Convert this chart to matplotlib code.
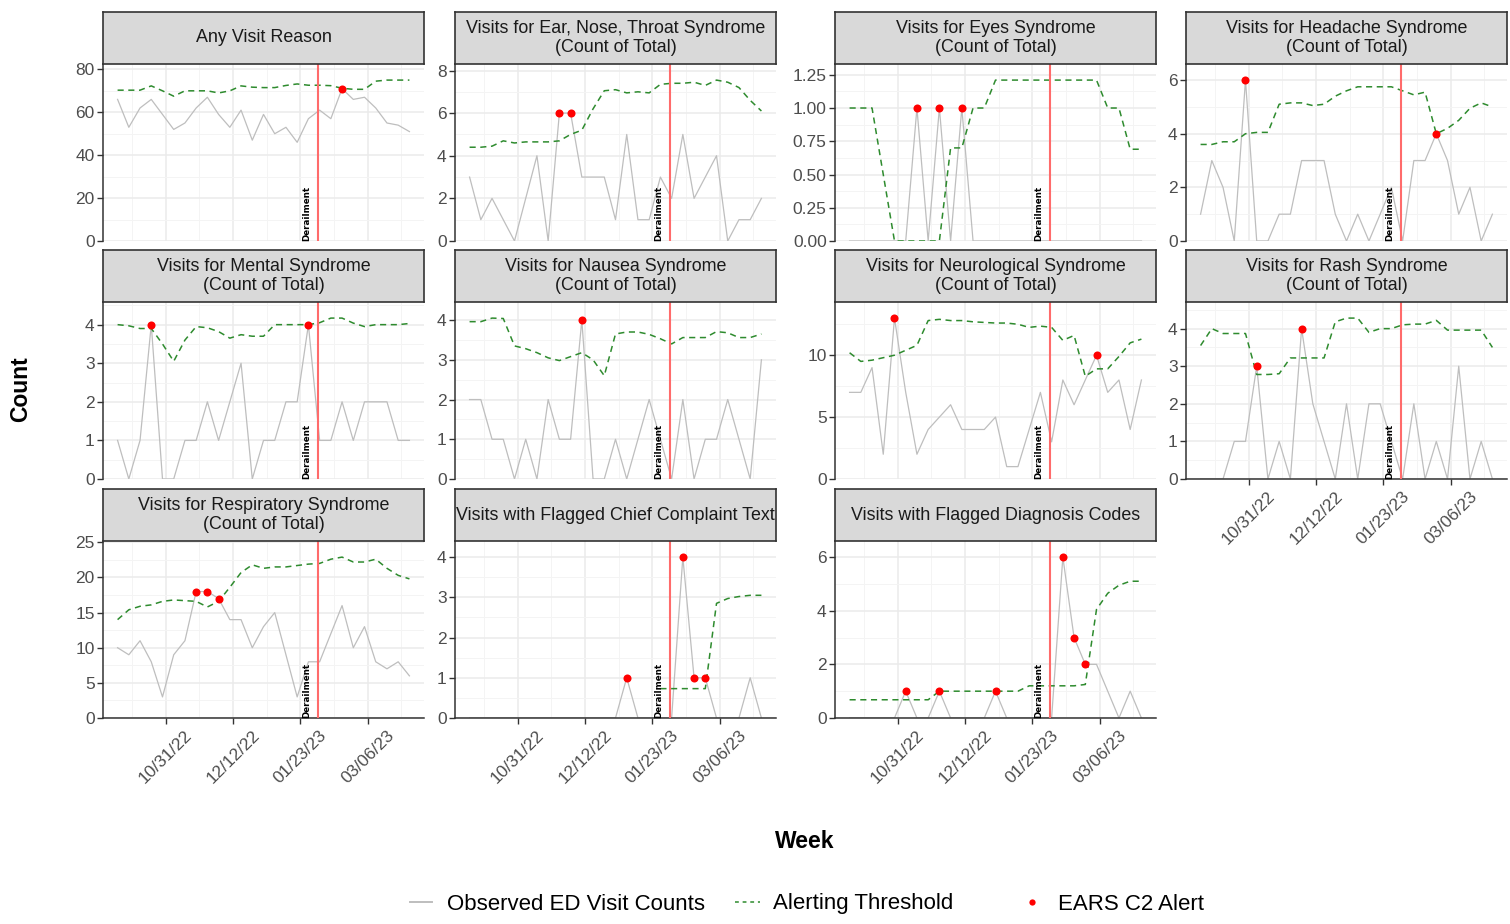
import matplotlib
matplotlib.use("Agg")
import matplotlib.dates as mdates
import matplotlib.pyplot as plt
import numpy as np
import pandas as pd
from matplotlib.lines import Line2D
from matplotlib.ticker import FixedLocator, FuncFormatter

plt.rcParams["font.family"] = ["Liberation Sans", "DejaVu Sans"]

# weekly series, Oct 1 2022 .. Apr 1 2023
weeks = pd.date_range("2022-10-01", periods=27, freq="7D")
derailment = pd.Timestamp("2023-02-03")
date_breaks = pd.to_datetime(["2022-10-31", "2022-12-12", "2023-01-23", "2023-03-06"])
date_minor = pd.to_datetime(["2022-10-10", "2022-11-21", "2023-01-02", "2023-02-13", "2023-03-27"])
nan = np.nan

titles = [
    "Any Visit Reason",
    "Visits for Ear, Nose, Throat Syndrome\n(Count of Total)",
    "Visits for Eyes Syndrome\n(Count of Total)",
    "Visits for Headache Syndrome\n(Count of Total)",
    "Visits for Mental Syndrome\n(Count of Total)",
    "Visits for Nausea Syndrome\n(Count of Total)",
    "Visits for Neurological Syndrome\n(Count of Total)",
    "Visits for Rash Syndrome\n(Count of Total)",
    "Visits for Respiratory Syndrome\n(Count of Total)",
    "Visits with Flagged Chief Complaint Text",
    "Visits with Flagged Diagnosis Codes",
]

any_obs = [66, 53, 62, 66, 59, 52, 55, 62, 67, 59, 53, 61, 47, 59, 50, 53, 46, 57, 61, 57, 71, 66, 67, 62, 55, 54, 51]
any_thr = [70.3, 70.3, 70.3, 72.3, 70.0, 67.5, 70.0, 70.0, 70.0, 69.0, 70.0, 72.3, 71.7, 71.5, 71.5, 72.5,
           73.2, 72.6, 72.6, 72.4, 71.2, 70.7, 70.7, 74.5, 75.0, 75.0, 75.0]
any_alert = [20]

ent_obs = [3, 1, 2, 1, 0, 2, 4, 0, 6, 6, 3, 3, 3, 1, 5, 1, 1, 3, 2, 5, 2, 3, 4, 0, 1, 1, 2]
ent_thr = [4.4, 4.4, 4.45, 4.7, 4.6, 4.65, 4.65, 4.65, 4.7, 5.0, 5.2, 6.2, 7.05, 7.1, 6.95, 7.0,
           6.95, 7.35, 7.4, 7.4, 7.45, 7.3, 7.55, 7.45, 7.2, 6.6, 6.1]
ent_alert = [8, 9]

eyes_obs = [0, 0, 0, 0, 0, 0, 1, 0, 1, 0, 1, 0, 0, 0, 0, 0, 0, 0, 0, 0, 0, 0, 0, 0, 0, 0, 0]
eyes_thr = [1.0, 1.0, 1.0, 0.5, 0.0, 0.0, 0.0, 0.0, 0.0, 0.7, 0.7, 1.0, 1.0, 1.21, 1.21, 1.21,
            1.21, 1.21, 1.21, 1.21, 1.21, 1.21, 1.21, 1.0, 1.0, 0.69, 0.69]
eyes_alert = [6, 8, 10]

head_obs = [1, 3, 2, 0, 6, 0, 0, 1, 1, 3, 3, 3, 1, 0, 1, 0, 1, 2, 0, 3, 3, 4, 3, 1, 2, 0, 1]
head_thr = [3.6, 3.6, 3.7, 3.7, 4.0, 4.05, 4.05, 5.1, 5.15, 5.15, 5.05, 5.1, 5.4, 5.6, 5.75, 5.75,
            5.75, 5.75, 5.6, 5.45, 5.55, 4.0, 4.2, 4.5, 4.95, 5.15, 5.0]
head_alert = [4, 21]

ment_obs = [1, 0, 1, 4, 0, 0, 1, 1, 2, 1, 2, 3, 0, 1, 1, 2, 2, 4, 1, 1, 2, 1, 2, 2, 2, 1, 1]
ment_thr = [4.0, 3.97, 3.9, 3.9, 3.5, 3.05, 3.6, 3.95, 3.92, 3.82, 3.65, 3.74, 3.7, 3.7, 4.0, 4.0,
            4.0, 4.0, 4.05, 4.17, 4.17, 4.04, 3.95, 4.0, 4.0, 4.0, 4.03]
ment_alert = [3, 17]

naus_obs = [2, 2, 1, 1, 0, 1, 0, 2, 1, 1, 4, 0, 0, 1, 0, 1, 2, 1, 0, 2, 0, 1, 1, 2, 1, 0, 3]
naus_thr = [3.96, 3.96, 4.05, 4.04, 3.35, 3.28, 3.18, 3.05, 2.98, 3.08, 3.18, 3.0, 2.6, 3.65, 3.7, 3.7,
            3.64, 3.53, 3.4, 3.56, 3.56, 3.56, 3.71, 3.68, 3.56, 3.56, 3.65]
naus_alert = [10]

neuro_obs = [7, 7, 9, 2, 13, 7, 2, 4, 5, 6, 4, 4, 4, 5, 1, 1, 4, 7, 3, 8, 6, 8, 10, 7, 8, 4, 8]
neuro_thr = [10.2, 9.5, 9.6, 9.8, 10.0, 10.4, 10.8, 12.8, 12.9, 12.8, 12.8, 12.7, 12.65, 12.6, 12.6, 12.5,
             12.25, 12.35, 12.25, 11.2, 11.6, 8.3, 8.9, 8.9, 9.9, 11.0, 11.3]
neuro_alert = [4, 22]

rash_obs = [0, 0, 0, 1, 1, 3, 0, 1, 0, 4, 2, 1, 0, 2, 0, 2, 2, 1, 0, 2, 0, 1, 0, 3, 0, 1, 0]
rash_thr = [3.55, 4.0, 3.87, 3.87, 3.87, 2.78, 2.78, 2.8, 3.22, 3.22, 3.22, 3.22, 4.18, 4.28, 4.28, 3.9,
            4.0, 4.0, 4.1, 4.12, 4.12, 4.22, 3.96, 3.96, 3.96, 3.96, 3.5]
rash_alert = [5, 9]

resp_obs = [10, 9, 11, 8, 3, 9, 11, 18, 18, 17, 14, 14, 10, 13, 15, 9, 3, 8, 8, 12, 16, 10, 13, 8, 7, 8, 6]
resp_thr = [14.0, 15.4, 15.9, 16.1, 16.6, 16.8, 16.7, 16.6, 15.8, 16.6, 18.6, 20.7, 21.8, 21.3, 21.5, 21.5,
            21.7, 21.9, 22.0, 22.6, 22.9, 22.2, 22.2, 22.6, 21.3, 20.3, 19.8]
resp_alert = [7, 8, 9]

cc_obs = [0, 0, 0, 0, 0, 0, 0, 0, 0, 0, 0, 0, 0, 0, 1, 0, 0, 0, 0, 4, 1, 1, 0, 0, 0, 1, 0]
cc_thr = [nan, nan, nan, nan, nan, nan, nan, nan, nan, nan, nan, nan, nan, nan, nan, nan,
          nan, 0.73, 0.73, 0.73, 0.73, 0.73, 2.85, 2.97, 3.02, 3.05, 3.05]
cc_alert = [14, 19, 20, 21]

diag_obs = [0, 0, 0, 0, 0, 1, 0, 0, 1, 0, 0, 0, 0, 1, 0, 0, 0, 0, 0, 6, 3, 2, 2, 1, 0, 1, 0]
diag_thr = [0.68, 0.68, 0.68, 0.68, 0.68, 0.68, 0.68, 0.68, 1.0, 1.0, 1.0, 1.0, 1.0, 1.0, 1.0, 1.0,
            1.2, 1.2, 1.2, 1.2, 1.2, 1.25, 4.05, 4.65, 4.95, 5.1, 5.1]
diag_alert = [5, 8, 13, 19, 20, 21]

y_steps = [20, 2, 0.25, 2, 1, 1, 5, 1, 5, 1, 2]

panels = [
    (any_obs, any_thr, any_alert), (ent_obs, ent_thr, ent_alert),
    (eyes_obs, eyes_thr, eyes_alert), (head_obs, head_thr, head_alert),
    (ment_obs, ment_thr, ment_alert), (naus_obs, naus_thr, naus_alert),
    (neuro_obs, neuro_thr, neuro_alert), (rash_obs, rash_thr, rash_alert),
    (resp_obs, resp_thr, resp_alert), (cc_obs, cc_thr, cc_alert),
    (diag_obs, diag_thr, diag_alert),
]

# layout in pixels
W, H = 1510, 924
COL_X = [103, 455, 835, 1186]
ROW_Y = [64, 302, 541]
PW, PH, SH = 321, 177, 52

OBS_C = "#BEBEBE"
THR_C = "#2E8B2E"
VLINE_C = "#FF6B6B"
AXIS_C = "#333333"
TICK_TXT = "#4D4D4D"


def add_panel(fig, k, title, obs, thr, alerts, ystep, show_x):
    row, col = divmod(k, 4)
    x0, y0 = COL_X[col], ROW_Y[row]
    ax = fig.add_axes([x0 / W, 1 - (y0 + PH) / H, PW / W, PH / H])
    obs = np.asarray(obs, float)
    thr = np.asarray(thr, float)

    ax.plot(weeks, obs, color=OBS_C, lw=0.9, zorder=2)
    ax.plot(weeks, thr, color=THR_C, lw=1.1, ls=(0, (4, 3)), zorder=3)
    ax.axvline(derailment, color=VLINE_C, lw=1.5, zorder=4)
    ax.text(mdates.date2num(derailment - pd.Timedelta(days=7)), 0, "Derailment",
            rotation=90, ha="center", va="bottom", fontsize=6.3, fontweight="bold",
            family="DejaVu Sans", color="black", zorder=5)
    ax.plot(weeks[alerts], obs[alerts], "o", color="red", ms=5.8, mec="none", zorder=6)

    span = mdates.date2num(weeks[-1]) - mdates.date2num(weeks[0])
    ax.set_xlim(mdates.date2num(weeks[0]) - 0.05 * span,
                mdates.date2num(weeks[-1]) + 0.05 * span)
    top = 1.1 * max(obs.max(), np.nanmax(thr))
    ax.set_ylim(0, top)

    ax.xaxis.set_major_locator(FixedLocator(mdates.date2num(date_breaks)))
    ax.xaxis.set_minor_locator(FixedLocator(mdates.date2num(date_minor)))
    ax.xaxis.set_major_formatter(mdates.DateFormatter("%m/%d/%y"))
    majors = np.arange(0, top + 1e-9, ystep)
    ax.yaxis.set_major_locator(FixedLocator(majors))
    ax.yaxis.set_minor_locator(FixedLocator(np.arange(ystep / 2, top, ystep)))
    if ystep < 1:
        ax.yaxis.set_major_formatter(FuncFormatter(lambda v, p: f"{v:.2f}"))
    else:
        ax.yaxis.set_major_formatter(FuncFormatter(lambda v, p: f"{v:g}"))

    ax.set_axisbelow(True)
    ax.grid(which="major", color="#EBEBEB", lw=1.1)
    ax.grid(which="minor", color="#F4F4F4", lw=0.7)
    for s in ("top", "right"):
        ax.spines[s].set_visible(False)
    ax.spines["left"].set_color(AXIS_C)
    ax.spines["left"].set_linewidth(1.1)
    ax.spines["bottom"].set_color(AXIS_C)
    ax.spines["bottom"].set_linewidth(1.1)
    ax.spines["bottom"].set_visible(show_x)

    ax.tick_params(axis="y", which="major", length=4, width=1, color=AXIS_C,
                   labelsize=12.5, labelcolor=TICK_TXT, pad=2)
    ax.tick_params(axis="both", which="minor", length=0)
    if show_x:
        ax.tick_params(axis="x", which="major", length=4, width=1, color=AXIS_C,
                       labelsize=12.5, labelcolor=TICK_TXT, pad=3)
        plt.setp(ax.get_xticklabels(), rotation=45, ha="center")
    else:
        ax.tick_params(axis="x", which="major", length=0, labelbottom=False)

    # facet strip
    sax = fig.add_axes([x0 / W, 1 - y0 / H, PW / W, SH / H])
    sax.set_facecolor("#D9D9D9")
    sax.set_xticks([])
    sax.set_yticks([])
    for s in sax.spines.values():
        s.set_color(AXIS_C)
        s.set_linewidth(1.2)
    sax.text(0.5, 0.5, title, ha="center", va="center", fontsize=12.9,
             color="#1A1A1A", linespacing=1.12, transform=sax.transAxes)
    return ax


def main():
    fig = plt.figure(figsize=(W / 100, H / 100), dpi=100)
    bottom_panels = {7, 8, 9, 10}
    for k, (obs, thr, alerts) in enumerate(panels):
        add_panel(fig, k, titles[k], obs, thr, alerts, y_steps[k], k in bottom_panels)

    fig.text(21 / W, 1 - 389 / H, "Count", rotation=90, ha="center", va="center",
             fontsize=16.5, fontweight="bold")
    fig.text(805 / W, 1 - 842 / H, "Week", ha="center", va="center",
             fontsize=16.5, fontweight="bold")

    handles = [
        (Line2D([], [], color=OBS_C, lw=1.4), "Observed ED Visit Counts", 410, 1.0, 0.68),
        (Line2D([], [], color=THR_C, lw=1.1, ls=(0, (2.5, 2.5))), "Alerting Threshold", 735, 1.13, 0.58),
        (Line2D([], [], color="red", marker="o", ls="none", ms=4.5, mec="none"), "EARS C2 Alert", 1021, 1.0, 0.68),
    ]
    for h, lab, xpx, hl, pad in handles:
        fig.legend(handles=[h], labels=[lab], loc="center left",
                   bbox_to_anchor=(xpx / W, 1 - 904 / H), frameon=False,
                   fontsize=16, handlelength=hl, handletextpad=pad,
                   borderpad=0, borderaxespad=0)

    fig.savefig("out.png", dpi=100)
    plt.close(fig)


if __name__ == "__main__":
    main()
